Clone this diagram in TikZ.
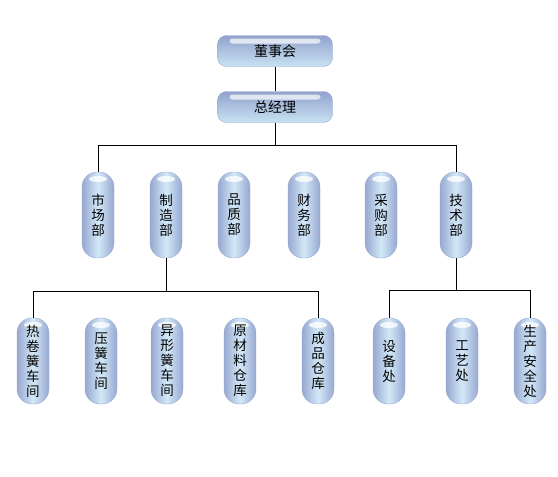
\documentclass[tikz,border=0pt]{standalone}
\usepackage{fontspec}
\setmainfont{Noto Sans CJK SC}
\usetikzlibrary{positioning}

\definecolor{pilledge}{RGB}{152,168,208}
\definecolor{pillmid}{RGB}{210,233,248}
\definecolor{pilltop}{RGB}{146,162,204}
\definecolor{pillbot}{RGB}{200,226,243}

\begin{document}
\begin{tikzpicture}[x=1pt, y=-1pt,
	link/.style={line width=0.8pt},
	hpill/.style={draw=pilledge, line width=0.4pt, rounded corners=9pt,
		minimum width=115pt, minimum height=31pt, inner sep=0pt,
		top color=pilltop, bottom color=pillbot,
		font=\fontsize{14}{16}\selectfont,
		path picture={\fill[white, opacity=0.7, rounded corners=3pt]
			([xshift=12pt, yshift=-3pt]path picture bounding box.north west) rectangle
			([xshift=-12pt, yshift=-8pt]path picture bounding box.north east);}},
	vpill/.style={draw=pilledge, line width=0.4pt, rounded corners=15pt,
		minimum width=32pt, minimum height=86pt, inner sep=0pt, align=center,
		left color=pilledge, right color=pilledge, middle color=pillmid,
		font=\fontsize{13.5}{15}\selectfont,
		path picture={\fill[white, opacity=0.8]
			([yshift=-7pt]path picture bounding box.north) ellipse (9pt and 3pt);}}]
	\useasboundingbox (0,0) rectangle (558,477);
	% top
	\node[hpill] (dsh) at (275,51) {董事会};
	\node[hpill] (zjl) at (275,107) {总经理};
	% departments
	\node[vpill] (scb) at (98,215) {市\\场\\部};
	\node[vpill] (zzb) at (166,215) {制\\造\\部};
	\node[vpill] (pzb) at (234,215) {品\\质\\部};
	\node[vpill] (cwb) at (304,215) {财\\务\\部};
	\node[vpill] (cgb) at (381,215) {采\\购\\部};
	\node[vpill] (jsb) at (456,215) {技\\术\\部};
	% under zhizao
	\node[vpill] (rjh) at (33,361) {热\\卷\\簧\\车\\间};
	\node[vpill] (yhj) at (101,361) {压\\簧\\车\\间};
	\node[vpill] (yxh) at (167,361) {异\\形\\簧\\车\\间};
	\node[vpill] (ycl) at (240,361) {原\\材\\料\\仓\\库};
	\node[vpill] (cpk) at (318,361) {成\\品\\仓\\库};
	% under jishu
	\node[vpill] (sbc) at (389,361) {设\\备\\处};
	\node[vpill] (gyc) at (462,361) {工\\艺\\处};
	\node[vpill] (aqc) at (530,361) {生\\产\\安\\全\\处};
	% lines
	\coordinate (topbus) at (275,145);
	\coordinate (zzbus) at (166,291);
	\coordinate (jsbus) at (456,290);
	\draw[link] (dsh) -- (zjl);
	\draw[link] (zjl) -- (topbus);
	\draw[link] (scb) -- (scb |- topbus) -- (jsb |- topbus) -- (jsb);
	\draw[link] (zzb) -- (zzbus);
	\draw[link] (rjh) -- (rjh |- zzbus) -- (cpk |- zzbus) -- (cpk);
	\draw[link] (jsb) -- (jsbus);
	\draw[link] (sbc) -- (sbc |- jsbus) -- (aqc |- jsbus) -- (aqc);
\end{tikzpicture}
\end{document}
